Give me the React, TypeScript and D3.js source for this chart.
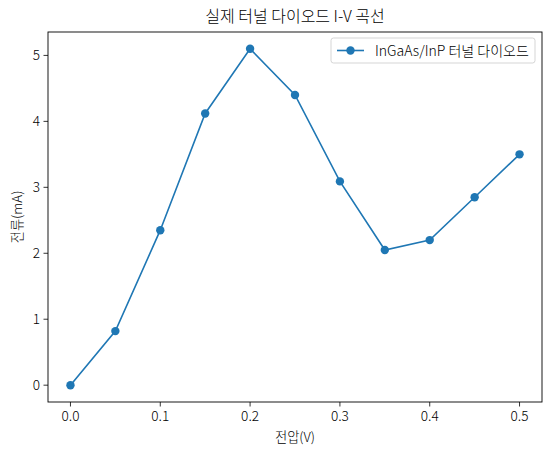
import React from "react";
import * as d3 from "d3";

const voltages = [0, 0.05, 0.1, 0.15, 0.2, 0.25, 0.3, 0.35, 0.4, 0.45, 0.5];
const currents = [0, 0.82, 2.35, 4.12, 5.1, 4.4, 3.09, 2.05, 2.2, 2.85, 3.5];
const xTicks = [0, 0.1, 0.2, 0.3, 0.4, 0.5];
const yTicks = [0, 1, 2, 3, 4, 5];
const title = "실제 터널 다이오드 I-V 곡선";
const xLabel = "전압(V)";
const yLabel = "전류(mA)";
const seriesName = "InGaAs/InP 터널 다이오드";

const W = 553, H = 454;
const L = 48, R = 542, T = 32, B = 402;
const color = "#1f77b4";
const font = "'Noto Sans CJK KR', 'Noto Sans', sans-serif";

export default function App() {
  const x = d3.scaleLinear().domain([-0.025, 0.525]).range([L, R]);
  const y = d3.scaleLinear().domain([-0.255, 5.355]).range([B, T]);
  const line = d3.line<number>().x((_, i) => x(voltages[i])).y((d) => y(d));
  return (
    <svg width={W} height={H} style={{ position: "absolute", left: 0, top: 0, background: "#fff" }} fontFamily={font} fontWeight={300}>
      <rect x={0} y={0} width={W} height={H} fill="#fff" />
      <text x={(L + R) / 2} y={22} textAnchor="middle" fontSize={16} fill="#000">{title}</text>
      {xTicks.map((t) => (
        <g key={"x" + t}>
          <line x1={x(t)} x2={x(t)} y1={B} y2={B + 4.5} stroke="#000" strokeWidth={0.8} />
          <text x={x(t)} y={B + 19} textAnchor="middle" fontSize={13.6} fill="#000">{t.toFixed(1)}</text>
        </g>
      ))}
      {yTicks.map((t) => (
        <g key={"y" + t}>
          <line x1={L - 4.5} x2={L} y1={y(t)} y2={y(t)} stroke="#000" strokeWidth={0.8} />
          <text x={L - 8} y={y(t) + 4.8} textAnchor="end" fontSize={13.6} fill="#000">{t}</text>
        </g>
      ))}
      <text x={(L + R) / 2} y={442} textAnchor="middle" fontSize={13.3} fill="#000">{xLabel}</text>
      <text transform={`translate(22,${(T + B) / 2}) rotate(-90)`} textAnchor="middle" fontSize={13.3} fill="#000">{yLabel}</text>
      <path d={line(currents) || ""} fill="none" stroke={color} strokeWidth={1.6} />
      {currents.map((c, i) => (
        <circle key={i} cx={x(voltages[i])} cy={y(c)} r={4.2} fill={color} />
      ))}
      <rect x={L} y={T} width={R - L} height={B - T} fill="none" stroke="#000" strokeWidth={0.9} />
      <g>
        <rect x={331} y={38} width={204} height={25} rx={2.5} fill="#fff" fillOpacity={0.8} stroke="#d0d0d0" strokeWidth={0.9} />
        <line x1={337} x2={364} y1={50.5} y2={50.5} stroke={color} strokeWidth={1.6} />
        <circle cx={350.5} cy={50.5} r={4.2} fill={color} />
        <text x={375} y={55.5} fontSize={14} fill="#000">{seriesName}</text>
      </g>
    </svg>
  );
}
